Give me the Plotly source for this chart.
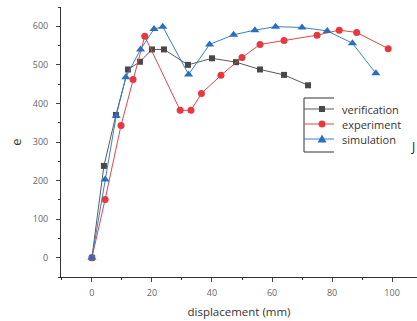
import plotly.graph_objects as go

ver_x = [0, 4, 8, 12, 16, 20, 24, 32, 40, 48, 56, 64, 72]
ver_y = [0, 238, 370, 488, 508, 540, 540, 500, 517, 507, 488, 474, 447]

exp_x = [0, 4.4, 9.7, 13.7, 17.6, 29.4, 33, 36.5, 43, 50, 56, 64, 75, 82.4, 88.2, 98.7]
exp_y = [0, 151, 343, 462, 574, 382, 382, 426, 473, 519, 553, 563, 577, 590, 584, 542]

sim_x = [0, 4.4, 8.1, 11.3, 16.2, 20.7, 23.6, 32.2, 39.2, 47.2, 54.3, 61.2, 70, 78.4, 86.8, 94.6]
sim_y = [0, 203, 368, 468, 540, 593, 599, 475, 553, 578, 590, 599, 597, 588, 556, 478]

series_names = ["verification", "experiment", "simulation"]
x_ticks = [0, 20, 40, 60, 80, 100]
y_ticks = [0, 100, 200, 300, 400, 500, 600]

W, H = 417, 321
ML, MR, MT, MB = 61, 0, 7, 44
PW, PH = W - ML - MR, H - MT - MB

COL_VER_LINE, COL_VER_MK = "#5a5a5a", "#484848"
COL_EXP_LINE, COL_EXP_MK = "#e0474c", "#e8383f"
COL_SIM_LINE, COL_SIM_MK = "#3d7fc4", "#2a6fbf"

fig = go.Figure()
fig.add_trace(go.Scatter(x=ver_x, y=ver_y, mode="lines+markers", name=series_names[0],
                         line=dict(color=COL_VER_LINE, width=1),
                         marker=dict(symbol="square", size=6, color=COL_VER_MK)))
fig.add_trace(go.Scatter(x=exp_x, y=exp_y, mode="lines+markers", name=series_names[1],
                         line=dict(color=COL_EXP_LINE, width=1),
                         marker=dict(symbol="circle", size=7, color=COL_EXP_MK)))
fig.add_trace(go.Scatter(x=sim_x, y=sim_y, mode="lines+markers", name=series_names[2],
                         line=dict(color=COL_SIM_LINE, width=1),
                         marker=dict(symbol="triangle-up", size=8, color=COL_SIM_MK)))

# helpers: figure pixel -> paper coords of plot area
def fx(p):
    return (p - ML) / PW
def fy(p):
    return (H - p - MB) / PH

shapes = []
annotations = []
# partial legend box
for (x0, y0, x1, y1) in [(304, 98, 304, 152), (304, 98, 334, 98), (304, 152, 334, 152)]:
    shapes.append(dict(type="line", xref="paper", yref="paper",
                       x0=fx(x0), y0=fy(y0), x1=fx(x1), y1=fy(y1),
                       line=dict(color="#333", width=1)))
legend_rows = [(109, COL_VER_LINE, COL_VER_MK, "square"),
               (124, COL_EXP_LINE, COL_EXP_MK, "circle"),
               (139, COL_SIM_LINE, COL_SIM_MK, "triangle")]
for name, (yy, lc, mc, sym) in zip(series_names, legend_rows):
    shapes.append(dict(type="line", xref="paper", yref="paper",
                       x0=fx(304), y0=fy(yy), x1=fx(334), y1=fy(yy),
                       line=dict(color=lc, width=1)))
    cx = 322
    if sym == "square":
        shapes.append(dict(type="rect", xref="paper", yref="paper",
                           x0=fx(cx - 3), y0=fy(yy + 3), x1=fx(cx + 3), y1=fy(yy - 3),
                           fillcolor=mc, line=dict(width=0)))
    elif sym == "circle":
        shapes.append(dict(type="circle", xref="paper", yref="paper",
                           x0=fx(cx - 3.5), y0=fy(yy + 3.5), x1=fx(cx + 3.5), y1=fy(yy - 3.5),
                           fillcolor=mc, line=dict(width=0)))
    else:
        path = "M {} {} L {} {} L {} {} Z".format(fx(cx - 4.5), fy(yy + 3.5), fx(cx + 4.5), fy(yy + 3.5),
                                                  fx(cx), fy(yy - 4.5))
        shapes.append(dict(type="path", xref="paper", yref="paper", path=path,
                           fillcolor=mc, line=dict(width=0)))
    annotations.append(dict(text=name, xref="paper", yref="paper", x=fx(340), y=fy(yy),
                            xanchor="left", yanchor="middle", showarrow=False,
                            font=dict(size=11, color="#333")))

annotations.append(dict(text="J", xref="paper", yref="paper", x=fx(409), y=fy(146),
                        xanchor="left", yanchor="middle", showarrow=False,
                        font=dict(size=12, color="#222")))

fig.update_layout(
    width=W, height=H,
    margin=dict(l=ML, r=MR, t=MT, b=MB),
    paper_bgcolor="white", plot_bgcolor="white",
    font=dict(family="Open Sans, sans-serif", color="#333"),
    showlegend=False,
    shapes=shapes,
    annotations=annotations,
)
fig.update_xaxes(range=[-10.3, 108.3], tickvals=x_ticks, ticks="outside", ticklen=4,
                 showline=True, linecolor="#333", linewidth=1, showgrid=False, zeroline=False,
                 tickfont=dict(size=9, color="#666"), automargin=False, ticklabelstandoff=3,
                 minor=dict(dtick=10, ticks="outside", ticklen=2, tickcolor="#333"),
                 title=dict(text="displacement (mm)", font=dict(size=11.5, color="#333"), standoff=10))
fig.update_yaxes(range=[-50, 650], tickvals=y_ticks, ticks="outside", ticklen=4,
                 showline=True, linecolor="#333", linewidth=1, showgrid=False, zeroline=False,
                 tickfont=dict(size=9, color="#666"), automargin=False, ticklabelstandoff=6,
                 minor=dict(dtick=50, ticks="outside", ticklen=2, tickcolor="#333"),
                 title=dict(text="e", font=dict(size=13, color="#333"), standoff=8))

fig.write_html("out.html", post_script="document.body.style.margin='0px';",
               config={"displayModeBar": False})
